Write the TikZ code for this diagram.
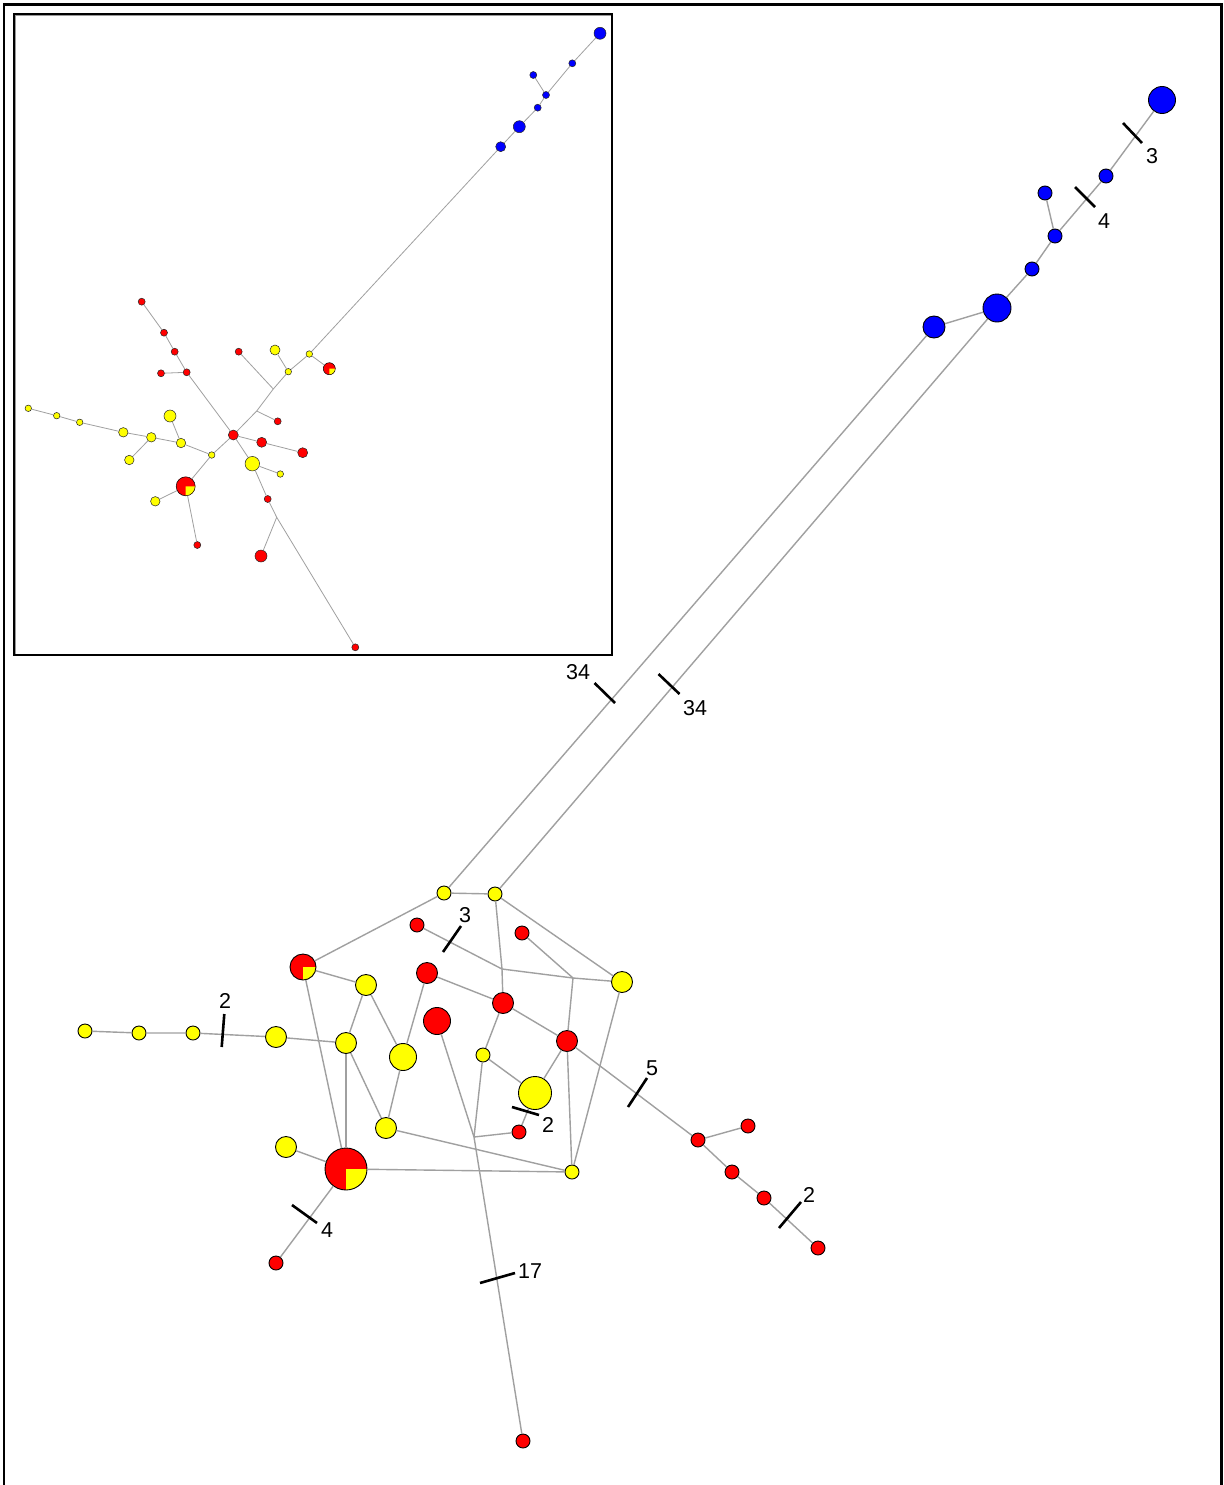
\documentclass[tikz,border=0pt]{standalone}
\usepackage{fontspec}
\setmainfont{Liberation Sans}
\definecolor{nred}{RGB}{255,0,0}
\definecolor{nyel}{RGB}{255,255,0}
\definecolor{nblue}{RGB}{0,0,255}
\definecolor{edgegray}{RGB}{160,160,160}
\tikzset{
  vtx/.style={circle, draw=black, line width=0.9pt, inner sep=0pt, minimum size=#1},
  rv/.style={vtx=#1, fill=nred}, rv/.default=14,
  yv/.style={vtx=#1, fill=nyel}, yv/.default=14,
  bv/.style={vtx=#1, fill=nblue}, bv/.default=14,
  ivtx/.style={circle, draw=black!85, line width=0.5pt, inner sep=0pt, minimum size=#1},
  irv/.style={ivtx=#1, fill=nred}, irv/.default=7,
  iyv/.style={ivtx=#1, fill=nyel}, iyv/.default=7,
  ibv/.style={ivtx=#1, fill=nblue}, ibv/.default=7,
  link/.style={draw=edgegray, line width=1.4pt},
  ilink/.style={draw=edgegray, line width=0.8pt},
  tickmark/.style={draw=black, line width=2.6pt},
  mutlabel/.style={font=\fontsize{21.5}{21.5}\selectfont, inner sep=0pt},
}
% red vertex with a yellow quarter: name, position, radius (pt), outline width
\newcommand\pievtx[4]{%
  \node[circle, fill=nred, inner sep=0pt, minimum size={2*#3pt}] (#1) at #2 {};
  \fill[nyel] (#1.center) -- ++(#3pt,0pt) arc[start angle=0, end angle=-90, radius=#3pt] -- cycle;
  \draw[black, line width=#4] (#1.center) circle[radius=#3pt];
}
\begin{document}
\begin{tikzpicture}[x=1pt, y=-1pt]
\useasboundingbox (0,0) rectangle (1223,1485);
\fill[white] (0,0) rectangle (1223,1485);

% outer frame
\draw[line width=2.6pt] (4,1485) -- (4,4.5) -- (1221.5,4.5) -- (1221.5,1485);

% ---------------- inset: overview tree ----------------
\draw[black!40, line width=1.1pt] (15.6,654) -- (15.6,15.6) -- (611,15.6);
\draw[line width=2pt] (14,14) rectangle (612,655);

\node[irv] (a1) at (141.7,301.7) {};
\node[irv] (a2) at (164,332.7) {};
\node[irv] (a3) at (174.7,351.7) {};
\node[irv] (a4) at (186.7,372.3) {};
\node[irv] (a5) at (161,373.3) {};
\node[irv] (a6) at (238.7,351.7) {};
\node[irv=10] (a7) at (233.3,435) {};
\node[irv] (a8) at (277.7,421.3) {};
\node[irv=10] (a9) at (261.7,442.3) {};
\node[irv=10] (a10) at (302.7,452.7) {};
\node[irv] (a11) at (267.7,499) {};
\node[irv] (a12) at (197.3,545) {};
\node[irv=12] (a13) at (261,556) {};
\node[irv] (a14) at (355.3,647.3) {};

\node[iyv=6.5] (b1) at (28.3,408.3) {};
\node[iyv=6.5] (b2) at (56.7,415.7) {};
\node[iyv=6.5] (b3) at (79.7,422.3) {};
\node[iyv=9.5] (b4) at (123.3,432.3) {};
\node[iyv=9.5] (b5) at (151.3,437.3) {};
\node[iyv=12] (b6) at (170,416) {};
\node[iyv=9.5] (b7) at (181,443) {};
\node[iyv=6.5] (b8) at (211.7,455) {};
\node[iyv=9.5] (b9) at (129.3,460) {};
\node[iyv=9.5] (b10) at (155.3,501.3) {};
\node[iyv=14.5] (b11) at (252.3,463.7) {};
\node[iyv=6.5] (b12) at (280.3,474) {};
\node[iyv=10] (b13) at (275,350) {};
\node[iyv=6.5] (b14) at (288.3,371.7) {};
\node[iyv=6.5] (b15) at (309.3,354) {};

\pievtx{p1}{(185.7,486.3)}{9.5}{0.5pt}
\pievtx{p2}{(329.3,368.7)}{6}{0.5pt}

\node[ibv=12] (c1) at (600,33.3) {};
\node[ibv] (c2) at (572.3,63.3) {};
\node[ibv] (c3) at (533.3,75) {};
\node[ibv] (c4) at (546,95) {};
\node[ibv] (c5) at (537.7,107.7) {};
\node[ibv=12] (c6) at (519.3,126.7) {};
\node[ibv=10] (c7) at (500.7,146.7) {};

\coordinate (k1) at (256.7,411);
\coordinate (k2) at (273.3,389);
\coordinate (k3) at (276.7,517.3);

\draw[ilink] (a1) -- (a2) -- (a3) -- (a4) -- (a7);
\draw[ilink] (a5) -- (a4);
\draw[ilink] (a7) -- (k1) -- (k2) -- (b14) -- (b15) -- (c7);
\draw[ilink] (k1) -- (a8);
\draw[ilink] (a6) -- (k2);
\draw[ilink] (b13) -- (b14);
\draw[ilink] (b15) -- (p2);
\draw[ilink] (a7) -- (a9) -- (a10);
\draw[ilink] (a7) -- (b8) -- (p1);
\draw[ilink] (b8) -- (b7) -- (b5) -- (b4) -- (b3) -- (b2) -- (b1);
\draw[ilink] (b7) -- (b6);
\draw[ilink] (b5) -- (b9);
\draw[ilink] (p1) -- (b10);
\draw[ilink] (p1) -- (a12);
\draw[ilink] (a7) -- (b11) -- (b12);
\draw[ilink] (b11) -- (a11) -- (k3) -- (a14);
\draw[ilink] (k3) -- (a13);
\draw[ilink] (c7) -- (c6) -- (c5) -- (c4) -- (c2) -- (c1);
\draw[ilink] (c3) -- (c4);

% ---------------- main network ----------------
% blue group
\node[bv=27] (B1) at (1162,100) {};
\node[bv] (B2) at (1106,176) {};
\node[bv] (B3) at (1045,193) {};
\node[bv] (B4) at (1055,236) {};
\node[bv] (B5) at (1032,269) {};
\node[bv=28] (B6) at (997,308) {};
\node[bv=22] (B7) at (934,327) {};

% central group
\node[yv] (Y1) at (444,893) {};
\node[yv] (Y2) at (495,894) {};
\node[rv] (R1) at (417,925) {};
\node[rv] (R2) at (522,933) {};
\pievtx{RY1}{(303,967)}{13}{0.9pt}
\node[yv=21] (Y3) at (366,985) {};
\node[rv=21] (R3) at (427,973) {};
\node[yv=21] (Y4) at (622,982) {};
\node[rv=21] (R4) at (503,1003) {};
\node[rv=27] (R5) at (437,1021) {};
\node[yv=21] (Y5) at (346,1043) {};
\node[yv=21] (Y6) at (276,1037) {};
\node[yv=27] (Y7) at (403,1057) {};
\node[yv] (Y8) at (483,1055) {};
\node[rv=21] (R6) at (567,1041) {};
\node[yv=33] (Y9) at (535,1093) {};
\node[yv=21] (Y10) at (386,1128) {};
\node[rv] (R7) at (519,1132) {};
\node[yv=21] (Y11) at (286,1147) {};
\pievtx{RY2}{(346,1169)}{21}{0.9pt}
\node[yv] (Y12) at (572,1172) {};

% left yellow chain
\node[yv] (YL1) at (85,1031) {};
\node[yv] (YL2) at (139,1033) {};
\node[yv] (YL3) at (193,1033) {};

% right red chain
\node[rv] (R8) at (698,1140) {};
\node[rv] (R9) at (748,1126) {};
\node[rv] (R10) at (732,1172) {};
\node[rv] (R11) at (764,1198) {};
\node[rv] (R12) at (818,1248) {};

% outlying red vertices
\node[rv] (RBL) at (276,1263) {};
\node[rv] (RB) at (523,1441) {};

% median vectors
\coordinate (J1) at (502,969);
\coordinate (J2) at (573,978);
\coordinate (J3) at (474,1137);

% links
\draw[link] (B1) -- (B2) -- (B4) -- (B5) -- (B6) -- (B7);
\draw[link] (B3) -- (B4);
\draw[link] (B7) -- (Y1);
\draw[link] (B6) -- (Y2);

\draw[link] (Y1) -- (Y2);
\draw[link] (Y1) -- (RY1);
\draw[link] (Y2) -- (Y4);
\draw[link] (Y2) -- (J1) -- (R4);
\draw[link] (R1) -- (J1) -- (J2) -- (Y4);
\draw[link] (R2) -- (J2) -- (R6) -- (Y12);
\draw[link] (Y4) -- (Y12);
\draw[link] (R3) -- (R4) -- (R6) -- (R8);
\draw[link] (R3) -- (Y7);
\draw[link] (RY1) -- (Y3);
\draw[link] (RY1) -- (RY2);
\draw[link] (Y3) -- (Y5);
\draw[link] (Y3) -- (Y7);
\draw[link] (Y6) -- (Y5);
\draw[link] (Y5) -- (RY2);
\draw[link] (Y5) -- (Y10);
\draw[link] (Y7) -- (Y10);
\draw[link] (Y10) -- (Y12);
\draw[link] (R5) -- (J3);
\draw[link] (Y8) -- (J3);
\draw[link] (R7) -- (J3);
\draw[link] (J3) -- (RB);
\draw[link] (Y8) -- (Y9);
\draw[link] (R4) -- (Y8);
\draw[link] (R6) -- (Y9);
\draw[link] (Y9) -- (R7);
\draw[link] (RY2) -- (Y12);
\draw[link] (RY2) -- (Y11);
\draw[link] (RY2) -- (RBL);
\draw[link] (Y6) -- (YL3) -- (YL2) -- (YL1);
\draw[link] (R8) -- (R9);
\draw[link] (R8) -- (R10) -- (R11) -- (R12);

% mutation-count bars and their labels
\draw[tickmark] (1123,123) -- (1142,143);
\node[mutlabel] (m1) at (1152,156) {3};
\draw[tickmark] (1075,187) -- (1095,207);
\node[mutlabel] (m2) at (1104,221) {4};
\draw[tickmark] (594.5,683) -- (615,703);
\node[mutlabel] (m3) at (578,672) {34};
\draw[tickmark] (658.5,674) -- (679.5,694);
\node[mutlabel] (m4) at (695,708) {34};
\draw[tickmark] (443,952) -- (461,926);
\node[mutlabel] (m5) at (465,915) {3};
\draw[tickmark] (224.3,1014) -- (221.7,1047);
\node[mutlabel] (m6) at (225,1001) {2};
\draw[tickmark] (628,1107) -- (647,1078);
\node[mutlabel] (m7) at (652,1068) {5};
\draw[tickmark] (512,1107) -- (539,1115);
\node[mutlabel] (m8) at (548,1125) {2};
\draw[tickmark] (779,1228) -- (801,1202);
\node[mutlabel] (m9) at (809,1195) {2};
\draw[tickmark] (292,1205) -- (317,1223);
\node[mutlabel] (m10) at (327,1230) {4};
\draw[tickmark] (480,1283) -- (515,1273);
\node[mutlabel] (m11) at (530,1271) {17};
\end{tikzpicture}
\end{document}
